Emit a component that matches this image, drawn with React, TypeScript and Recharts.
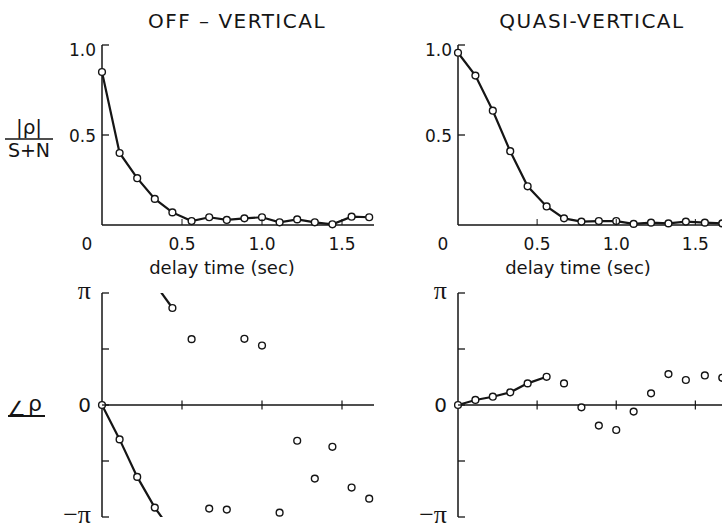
import React from 'react';
import { LineChart, Line, XAxis, YAxis, ReferenceLine } from 'recharts';

// delay time of each sample (sec)
const delaySec = [0, 0.11, 0.22, 0.33, 0.44, 0.56, 0.67, 0.78, 0.89, 1.0, 1.11, 1.22, 1.33, 1.44, 1.56, 1.67];

// |rho| / (S+N)
const offVerticalMag = [0.85, 0.4, 0.26, 0.145, 0.07, 0.022, 0.043, 0.028, 0.037, 0.043, 0.015, 0.031, 0.015, 0.004, 0.046, 0.043];
const quasiVerticalMag = [0.957, 0.83, 0.635, 0.41, 0.215, 0.103, 0.037, 0.019, 0.022, 0.022, 0.006, 0.013, 0.009, 0.019, 0.013, 0.009];

// phase of rho, in units of pi
const offVerticalPhase = [0, -0.307, -0.642, -0.916, 0.866, 0.588, -0.925, -0.934, 0.591, 0.531, -0.961, -0.319, -0.657, -0.373, -0.737, -0.836];
const quasiVerticalPhase = [0, 0.045, 0.074, 0.113, 0.193, 0.252, 0.193, -0.021, -0.184, -0.223, -0.059, 0.104, 0.276, 0.223, 0.264, 0.243];

// how many leading phase points are joined by a line
const offVerticalJoined = 5;
const quasiVerticalJoined = 6;

const timeTicks = [0, 0.5, 1.0, 1.5];
const magTicks = [0, 0.5, 1.0];
const phaseTicks = [-1, -0.5, 0, 0.5, 1];
const phaseLabels: Record<string, string> = { '1': 'π', '0': '0', '-1': '−π' };

const INK = '#151515';
const SANS = '"DejaVu Sans", sans-serif';
const SERIF = '"Liberation Serif", serif';

const magRows = (mag: number[]) => delaySec.map((t, i) => ({ t, mag: mag[i] }));

// phase rows; the joined part is unwrapped, and the piece that wraps round is
// also given on the other side of the +-pi boundary
const phaseRows = (phase: number[], joined: number) => {
  const rows = delaySec.map((t, i) => ({
    t,
    phase: phase[i],
    trace: null as number | null,
    wrapped: null as number | null,
  }));
  let shift = 0;
  for (let i = 0; i < joined; i++) {
    if (i > 0) {
      const step = phase[i] - phase[i - 1];
      if (step > 1) {
        rows[i - 1].wrapped = phase[i - 1] + 2;
        rows[i].wrapped = phase[i];
        shift -= 2;
      } else if (step < -1) {
        rows[i - 1].wrapped = phase[i - 1] - 2;
        rows[i].wrapped = phase[i];
        shift += 2;
      }
    }
    rows[i].trace = phase[i] + shift;
  }
  return rows;
};

const dotStyle = { r: 3.4, fill: '#fff', stroke: INK, strokeWidth: 1.4 };

const TimeTick = (props: any) => {
  const { x, y, payload } = props;
  const v = payload.value as number;
  return (
    <g>
      {v !== 0 && <line x1={x} y1={y} x2={x} y2={y - 6} stroke={INK} strokeWidth={1} />}
      <text x={v === 0 ? x - 15 : x} y={y + 25} textAnchor="middle" fontFamily={SANS} fontSize={17} fill={INK}>
        {v === 0 ? '0' : v.toFixed(1)}
      </text>
    </g>
  );
};

const MagTick = (props: any) => {
  const { x, y, payload } = props;
  const v = payload.value as number;
  if (v === 0) return <g />;
  return (
    <g>
      <line x1={x} y1={y} x2={x + 7} y2={y} stroke={INK} strokeWidth={1.3} />
      <text x={x - 6} y={y + (v === 1 ? 11 : 7)} textAnchor="end" fontFamily={SANS} fontSize={17} fill={INK}>
        {v.toFixed(1)}
      </text>
    </g>
  );
};

const PhaseTick = (props: any) => {
  const { x, y, payload } = props;
  const v = payload.value as number;
  const label = phaseLabels[String(v)];
  return (
    <g>
      <line x1={x} y1={y} x2={x + 7} y2={y} stroke={INK} strokeWidth={1.3} />
      {label && (
        <text
          x={x - 11}
          y={y + (v === 0 ? 7 : 6)}
          textAnchor="end"
          fontFamily={v === 0 ? SANS : SERIF}
          fontSize={v === 0 ? 20 : 26}
          fill={INK}
        >
          {label}
        </text>
      )}
    </g>
  );
};

const MagPanel = ({ mag, left, width }: { mag: number[]; left: number; width: number }) => (
  <div style={{ position: 'absolute', left, top: 0 }}>
    <LineChart width={width} height={290} data={magRows(mag)} margin={{ top: 45, right: 6, left: 62, bottom: 35 }}>
      <XAxis
        type="number"
        dataKey="t"
        domain={[0, 1.7]}
        ticks={timeTicks}
        interval={0}
        height={30}
        tickSize={0}
        tickMargin={0}
        tickLine={false}
        axisLine={{ stroke: INK, strokeWidth: 1.5 }}
        tick={<TimeTick />}
      />
      <YAxis
        type="number"
        domain={[0, 1]}
        ticks={magTicks}
        interval={0}
        width={40}
        tickSize={0}
        tickMargin={0}
        tickLine={false}
        axisLine={{ stroke: INK, strokeWidth: 1.5 }}
        tick={<MagTick />}
      />
      <Line
        type="linear"
        dataKey="mag"
        stroke={INK}
        strokeWidth={2.2}
        dot={dotStyle}
        activeDot={false}
        isAnimationActive={false}
      />
    </LineChart>
  </div>
);

const PhasePanel = ({ phase, joined, left, width }: { phase: number[]; joined: number; left: number; width: number }) => (
  <div style={{ position: 'absolute', left, top: 250 }}>
    <LineChart width={width} height={300} data={phaseRows(phase, joined)} margin={{ top: 43, right: 6, left: 62, bottom: 33 }}>
      <XAxis type="number" dataKey="t" domain={[0, 1.7]} ticks={timeTicks} hide />
      <YAxis
        type="number"
        domain={[-1, 1]}
        allowDataOverflow
        ticks={phaseTicks}
        interval={0}
        width={40}
        tickSize={0}
        tickMargin={0}
        tickLine={false}
        axisLine={{ stroke: INK, strokeWidth: 1.5 }}
        tick={<PhaseTick />}
      />
      <ReferenceLine y={0} stroke={INK} strokeWidth={1.5} />
      {timeTicks
        .filter((t) => t > 0)
        .map((t) => (
          <ReferenceLine
            key={t}
            segment={[
              { x: t, y: -0.04 },
              { x: t, y: 0.04 },
            ]}
            stroke={INK}
            strokeWidth={1.2}
          />
        ))}
      <Line type="linear" dataKey="trace" stroke={INK} strokeWidth={2.2} dot={false} activeDot={false} isAnimationActive={false} />
      <Line type="linear" dataKey="wrapped" stroke={INK} strokeWidth={2.2} dot={false} activeDot={false} isAnimationActive={false} />
      <Line type="linear" dataKey="phase" stroke="none" dot={dotStyle} activeDot={false} isAnimationActive={false} />
    </LineChart>
  </div>
);

export default function App() {
  return (
    <div
      style={{
        position: 'absolute',
        left: 0,
        top: 0,
        width: 722,
        height: 529,
        overflow: 'hidden',
        background: '#fff',
      }}
    >
      <MagPanel mag={offVerticalMag} left={0} width={380} />
      <MagPanel mag={quasiVerticalMag} left={356} width={377} />
      <PhasePanel phase={offVerticalPhase} joined={offVerticalJoined} left={0} width={380} />
      <PhasePanel phase={quasiVerticalPhase} joined={quasiVerticalJoined} left={356} width={377} />
      <svg width={722} height={529} style={{ position: 'absolute', left: 0, top: 0, pointerEvents: 'none' }}>
        <g fontFamily={SANS} fill={INK}>
          <text x={237} y={28} textAnchor="middle" fontSize={20} letterSpacing={1.5}>
            OFF – VERTICAL
          </text>
          <text x={592} y={28} textAnchor="middle" fontSize={20} letterSpacing={1.5}>
            QUASI-VERTICAL
          </text>
          <text x={29} y={134} textAnchor="middle" fontSize={20}>
            |ρ|
          </text>
          <line x1={5} y1={139} x2={53} y2={139} stroke={INK} strokeWidth={1.5} />
          <text x={29} y={157} textAnchor="middle" fontSize={19}>
            S+N
          </text>
          <text x={222} y={274} textAnchor="middle" fontSize={18}>
            delay time (sec)
          </text>
          <text x={578} y={274} textAnchor="middle" fontSize={18}>
            delay time (sec)
          </text>
          <text x={7} y={416} fontSize={21}>
            ∠
          </text>
          <text x={28} y={411} fontSize={22}>
            ρ
          </text>
          <line x1={8} y1={416} x2={45} y2={416} stroke={INK} strokeWidth={1.8} />
        </g>
      </svg>
    </div>
  );
}
